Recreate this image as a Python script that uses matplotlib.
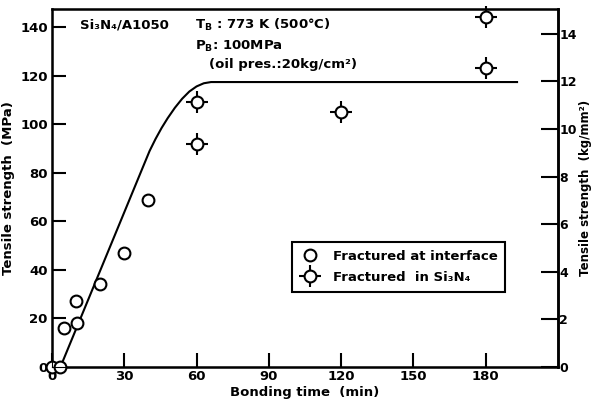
import matplotlib
matplotlib.use('Agg')
import matplotlib.pyplot as plt

plt.rcParams['font.family'] = ['DejaVu Sans']
plt.rcParams['font.weight'] = 'bold'
plt.rcParams['axes.labelweight'] = 'bold'
plt.rcParams['font.size'] = 9.5

# open circles: fractured at interface
t_interface = [0, 3.5, 5, 10, 10.5, 20, 30, 40]
s_interface = [0, 0, 16, 27, 18, 34, 47, 69]

# circle with cross: fractured in Si3N4
t_ceramic = [60, 60, 120, 180, 180]
s_ceramic = [109, 92, 105, 144, 123]

# guide curve
t_curve = [3.5, 38, 40.5, 43, 45.5, 48, 51, 54, 57, 60, 63, 66, 193]
s_curve = [0, 83, 89, 94, 98.5, 102.5, 106.8, 110.5, 113.5, 115.6, 116.9, 117.4, 117.4]

x_ticks = [0, 30, 60, 90, 120, 150, 180]
y_ticks = [0, 20, 40, 60, 80, 100, 120, 140]
y2_ticks = [0, 2, 4, 6, 8, 10, 12, 14]

fig = plt.figure(figsize=(5.92, 4.05), dpi=100)
ax = fig.add_axes([0.0878, 0.0938, 0.8548, 0.884])

ax.plot(t_curve, s_curve, color='black', lw=1.5, zorder=2)
ax.plot(t_interface, s_interface, 'o', ms=8.5, mfc='white', mec='black',
        mew=1.5, clip_on=False, zorder=4)
ax.plot(t_ceramic, s_ceramic, '+', ms=16, mec='black', mew=1.5,
        clip_on=False, zorder=3)
ax.plot(t_ceramic, s_ceramic, 'o', ms=8.5, mfc='white', mec='black',
        mew=1.5, clip_on=False, zorder=4)

ax.set_xlim(0, 210)
ax.set_ylim(0, 147.5)
ax.set_xticks(x_ticks)
ax.set_yticks(y_ticks)
ax.tick_params(direction='in', length=10, width=1.5, pad=3)
ax.tick_params(axis='x', pad=2)
for sp in ax.spines.values():
    sp.set_linewidth(1.8)

ax.set_xlabel('Bonding time  (min)', labelpad=2)
ax.set_ylabel('Tensile strength  (MPa)', labelpad=4)

ax2 = ax.twinx()
ax2.set_ylim(0, 147.5 / 9.80665)
ax2.set_yticks(y2_ticks)
ax2.tick_params(direction='in', length=12, width=1.5, pad=1, labelsize=9)
ax2.spines['right'].set_linewidth(1.8)
ax2.set_ylabel('Tensile strength  (kg/mm²)', fontsize=8.5, va='center')
ax2.yaxis.set_label_coords(1.055, 0.5)

ax.text(0.055, 0.955, 'Si₃N₄/A1050', transform=ax.transAxes, va='center')
ax.text(0.283, 0.955, r'T$_{\mathbf{B}}$ : 773 K (500°C)', transform=ax.transAxes,
        va='center')
ax.text(0.283, 0.895, r'P$_{\mathbf{B}}$: 100MPa', transform=ax.transAxes,
        va='center')
ax.text(0.31, 0.845, '(oil pres.:20kg/cm²)', transform=ax.transAxes,
        va='center')

h1, = ax.plot([], [], 'o', ms=8.5, mfc='white', mec='black', mew=1.5)
h2a, = ax.plot([], [], '+', ms=16, mec='black', mew=1.5)
h2b, = ax.plot([], [], 'o', ms=8.5, mfc='white', mec='black', mew=1.5)
leg = ax.legend([h1, (h2a, h2b)], ['Fractured at interface', 'Fractured  in Si₃N₄'],
                loc='upper left', bbox_to_anchor=(0.474, 0.349), borderaxespad=0,
                fancybox=False, edgecolor='black', framealpha=1,
                handlelength=1.6, handletextpad=0.9, borderpad=0.6,
                labelspacing=0.6)
leg.get_frame().set_linewidth(1.5)

fig.savefig('out.png', dpi=100)
